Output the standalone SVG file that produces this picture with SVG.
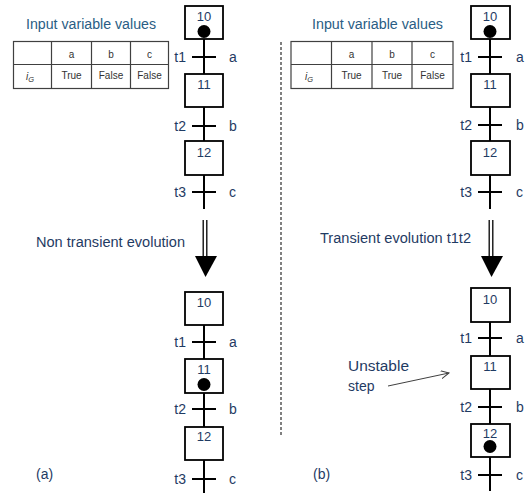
<svg xmlns="http://www.w3.org/2000/svg" width="525" height="495" viewBox="0 0 525 495">
  <style>
    text { font-family: "Liberation Sans", Arial, sans-serif; fill: #1f3b63; }
    .lbl { font-size: 14px; }
    .num { font-size: 13px; text-anchor: middle; }
    .cell { font-size: 10px; text-anchor: middle; fill: #333333; }
    .title { font-size: 14px; fill: #2a5d84; }
    .step { fill: #ffffff; stroke: #000000; stroke-width: 1.8; }
    .link { stroke: #000000; stroke-width: 2; fill: none; }
    .bar { stroke: #000000; stroke-width: 2; }
    .tbl { stroke: #404040; stroke-width: 1.2; fill: #ffffff; }
    .tline { stroke: #404040; stroke-width: 1.2; }
    .token { fill: #000000; }
  </style>
  <defs>
    <marker id="open" markerWidth="10" markerHeight="10" refX="8" refY="4" orient="auto" markerUnits="userSpaceOnUse">
      <path d="M0,0 L8,4 L0,8" fill="none" stroke="#404040" stroke-width="1"/>
    </marker>
  </defs>

  <rect width="525" height="495" fill="#ffffff"/>

  <!-- separator -->
  <line x1="281" y1="42" x2="281" y2="435" stroke="#000000" stroke-width="1" stroke-dasharray="3,2"/>

  <!-- input tables -->
  <g id="table-a">
    <text class="title" x="26" y="29" textLength="130" lengthAdjust="spacingAndGlyphs">Input variable values</text>
    <rect class="tbl" x="13.5" y="41.5" width="155" height="47"/>
    <line class="tline" x1="13.5" y1="64.5" x2="168.5" y2="64.5"/>
    <line class="tline" x1="51.5" y1="41.5" x2="51.5" y2="88.5"/>
    <line class="tline" x1="91.5" y1="41.5" x2="91.5" y2="88.5"/>
    <line class="tline" x1="130.5" y1="41.5" x2="130.5" y2="88.5"/>
    <text class="cell" x="71.5" y="58">a</text>
    <text class="cell" x="111" y="58">b</text>
    <text class="cell" x="149.5" y="58">c</text>
    <text class="cell" x="30" y="80" font-style="italic" font-family="Liberation Serif, serif">i<tspan font-size="7.5" dy="2">G</tspan></text>
    <text class="cell" x="71.5" y="79">True</text>
    <text class="cell" x="111" y="79">False</text>
    <text class="cell" x="149.5" y="79">False</text>
  </g>
  <g id="table-b">
    <text class="title" x="312" y="29" textLength="131" lengthAdjust="spacingAndGlyphs">Input variable values</text>
    <rect class="tbl" x="291" y="41.5" width="162" height="47"/>
    <line class="tline" x1="291" y1="64.5" x2="453" y2="64.5"/>
    <line class="tline" x1="331.5" y1="41.5" x2="331.5" y2="88.5"/>
    <line class="tline" x1="372" y1="41.5" x2="372" y2="88.5"/>
    <line class="tline" x1="412" y1="41.5" x2="412" y2="88.5"/>
    <text class="cell" x="351.5" y="58">a</text>
    <text class="cell" x="392" y="58">b</text>
    <text class="cell" x="432.5" y="58">c</text>
    <text class="cell" x="309" y="80" font-style="italic" font-family="Liberation Serif, serif">i<tspan font-size="7.5" dy="2">G</tspan></text>
    <text class="cell" x="351.5" y="79">True</text>
    <text class="cell" x="392" y="79">True</text>
    <text class="cell" x="432.5" y="79">False</text>
  </g>

  <!-- connectors: links, transitions and evolution arrows -->
  <g id="connectors">
    <!-- left, before -->
    <line class="link" x1="204" y1="39" x2="204" y2="74"/>
    <line class="link" x1="204" y1="107" x2="204" y2="141"/>
    <line class="link" x1="204" y1="175" x2="204" y2="209"/>
    <line class="bar" x1="192" y1="57" x2="216" y2="57"/>
    <line class="bar" x1="192" y1="126" x2="216" y2="126"/>
    <line class="bar" x1="192" y1="192" x2="216" y2="192"/>
    <!-- left, after -->
    <line class="link" x1="204" y1="325" x2="204" y2="359"/>
    <line class="link" x1="204" y1="393" x2="204" y2="427"/>
    <line class="link" x1="204" y1="460" x2="204" y2="493"/>
    <line class="bar" x1="192" y1="342" x2="216" y2="342"/>
    <line class="bar" x1="192" y1="409" x2="216" y2="409"/>
    <line class="bar" x1="192" y1="479" x2="216" y2="479"/>
    <!-- right, before -->
    <line class="link" x1="490" y1="39" x2="490" y2="74"/>
    <line class="link" x1="490" y1="107" x2="490" y2="141"/>
    <line class="link" x1="490" y1="175" x2="490" y2="209"/>
    <line class="bar" x1="478" y1="57" x2="502" y2="57"/>
    <line class="bar" x1="478" y1="125" x2="502" y2="125"/>
    <line class="bar" x1="478" y1="192" x2="502" y2="192"/>
    <!-- right, after -->
    <line class="link" x1="490" y1="322" x2="490" y2="356"/>
    <line class="link" x1="490" y1="389" x2="490" y2="424"/>
    <line class="link" x1="490" y1="457" x2="490" y2="491"/>
    <line class="bar" x1="478" y1="338" x2="502" y2="338"/>
    <line class="bar" x1="478" y1="407" x2="502" y2="407"/>
    <line class="bar" x1="478" y1="475" x2="502" y2="475"/>

    <!-- evolution arrows -->
    <line x1="203.2" y1="220" x2="203.2" y2="257" stroke="#000" stroke-width="1.3"/>
    <line x1="206.8" y1="220" x2="206.8" y2="257" stroke="#000" stroke-width="1.3"/>
    <polygon points="195,256 217,256 205.5,277" fill="#000"/>
    <line x1="489.2" y1="220" x2="489.2" y2="257" stroke="#000" stroke-width="1.3"/>
    <line x1="492.8" y1="220" x2="492.8" y2="257" stroke="#000" stroke-width="1.3"/>
    <polygon points="481,256 503,256 491.5,277" fill="#000"/>

    <!-- pointer to the unstable step -->
    <line x1="388" y1="386" x2="449" y2="373" stroke="#404040" stroke-width="1" marker-end="url(#open)"/>
  </g>

  <!-- steps, left chart before evolution -->
  <g id="a-s10"><rect class="step" x="185" y="6" width="38" height="33"/><text class="num" x="204" y="21">10</text><circle class="token" cx="204" cy="31.5" r="6.5"/></g>
  <g id="a-s11"><rect class="step" x="185" y="74" width="38" height="33"/><text class="num" x="204" y="89">11</text></g>
  <g id="a-s12"><rect class="step" x="185" y="141" width="38" height="34"/><text class="num" x="204" y="157">12</text></g>
  <!-- steps, left chart after evolution -->
  <g id="a2-s10"><rect class="step" x="185" y="292" width="38" height="33"/><text class="num" x="204" y="307">10</text></g>
  <g id="a2-s11"><rect class="step" x="185" y="359" width="38" height="34"/><text class="num" x="204" y="374">11</text><circle class="token" cx="204" cy="384.5" r="6.5"/></g>
  <g id="a2-s12"><rect class="step" x="185" y="427" width="38" height="33"/><text class="num" x="204" y="441">12</text></g>
  <!-- steps, right chart before evolution -->
  <g id="b-s10"><rect class="step" x="471" y="6" width="39" height="33"/><text class="num" x="490" y="21">10</text><circle class="token" cx="490" cy="31.5" r="6.5"/></g>
  <g id="b-s11"><rect class="step" x="471" y="74" width="39" height="33"/><text class="num" x="490" y="89">11</text></g>
  <g id="b-s12"><rect class="step" x="471" y="141" width="39" height="34"/><text class="num" x="490" y="157">12</text></g>
  <!-- steps, right chart after evolution -->
  <g id="b2-s10"><rect class="step" x="471" y="288" width="39" height="34"/><text class="num" x="490" y="304">10</text></g>
  <g id="b2-s11"><rect class="step" x="471" y="356" width="39" height="33"/><text class="num" x="490" y="371">11</text></g>
  <g id="b2-s12"><rect class="step" x="471" y="424" width="39" height="33"/><text class="num" x="490" y="438">12</text><circle class="token" cx="490" cy="446.5" r="6.5"/></g>

  <!-- transition names and receptivities -->
  <g id="labels">
    <g class="lbl" text-anchor="end">
      <text x="186" y="62">t1</text><text x="186" y="131">t2</text><text x="186" y="197">t3</text>
      <text x="186" y="347">t1</text><text x="186" y="414">t2</text><text x="186" y="484">t3</text>
      <text x="472" y="62">t1</text><text x="472" y="130">t2</text><text x="472" y="197">t3</text>
      <text x="472" y="343">t1</text><text x="472" y="412">t2</text><text x="472" y="480">t3</text>
    </g>
    <g class="lbl">
      <text x="229" y="62">a</text><text x="229" y="131">b</text><text x="229" y="197">c</text>
      <text x="229" y="347">a</text><text x="229" y="414">b</text><text x="229" y="484">c</text>
      <text x="516" y="62">a</text><text x="516" y="130">b</text><text x="516" y="197">c</text>
      <text x="516" y="343">a</text><text x="516" y="412">b</text><text x="516" y="480">c</text>
    </g>
    <text class="lbl" x="36" y="247" textLength="149" lengthAdjust="spacingAndGlyphs">Non transient evolution</text>
    <text class="lbl" x="320" y="243" textLength="151" lengthAdjust="spacingAndGlyphs">Transient evolution t1t2</text>
    <text class="lbl" x="348" y="371" textLength="61" lengthAdjust="spacingAndGlyphs">Unstable</text>
    <text class="lbl" x="348" y="391">step</text>
    <text class="lbl" x="36" y="479">(a)</text>
    <text class="lbl" x="313" y="479">(b)</text>
  </g>
</svg>
